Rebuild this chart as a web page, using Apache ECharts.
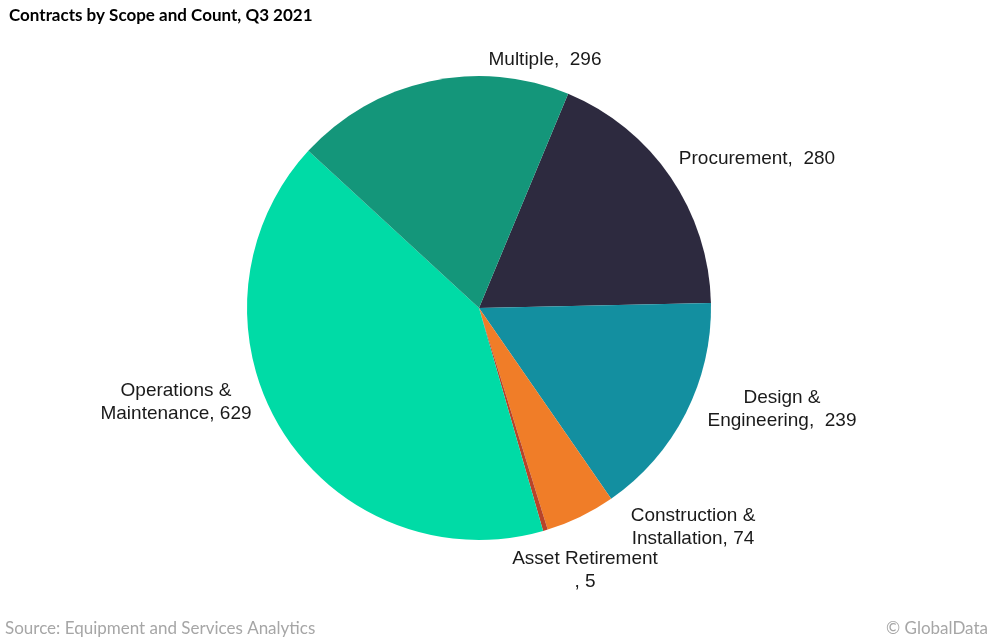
<!DOCTYPE html>
<html>
<head>
<meta charset="utf-8">
<script src="https://cdn.jsdelivr.net/npm/echarts@6/dist/echarts.min.js"></script>
<style>html,body{margin:0;padding:0;background:#fff}#c{width:996px;height:641px}</style>
</head>
<body>
<div id="c"></div>
<script>
const categories = ['Procurement', 'Design & Engineering', 'Construction & Installation', 'Asset Retirement', 'Operations & Maintenance', 'Multiple'];
const values = [280, 239, 74, 5, 629, 296];
const labelLines = ['Procurement,  280', 'Design &\nEngineering,  239', 'Construction &\nInstallation, 74', 'Asset Retirement\n, 5', 'Operations &\nMaintenance, 629', 'Multiple,  296'];
const colors = ['#2d2a3f', '#138fa0', '#f07d28', '#b8442a', '#00dba6', '#14967a'];
const labelPos = [[757, 159], [782, 409], [693, 527], [585, 570], [176, 402], [545, 60]];

const chart = echarts.init(document.getElementById('c'), null, {renderer: 'canvas'});
chart.setOption({
  animation: false,
  backgroundColor: '#fff',
  title: {
    text: 'Contracts by Scope and Count, Q3 2021',
    left: 4, top: 2,
    textStyle: {fontFamily: 'Lato', fontWeight: 'bold', fontSize: 17, color: '#000'}
  },
  graphic: [
    {type: 'text', left: 5, top: 620, style: {text: 'Source: Equipment and Services Analytics', font: '17px Lato', fill: '#a6a6a6'}},
    {type: 'text', right: 8, top: 620, style: {text: '© GlobalData', font: '17px Lato', fill: '#a6a6a6'}}
  ],
  series: [{
    type: 'pie',
    center: [479, 308],
    radius: 232,
    startAngle: 67.4,
    clockwise: true,
    avoidLabelOverlap: false,
    data: categories.map((n, i) => ({name: n, value: values[i], itemStyle: {color: colors[i]}})),
    label: {
      show: true,
      position: 'outside',
      formatter: p => labelLines[p.dataIndex],
      fontFamily: 'Liberation Sans, Arial',
      fontSize: 19,
      color: '#1a1a1a',
      lineHeight: 23,
      align: 'center'
    },
    labelLine: {show: false},
    labelLayout: p => ({x: labelPos[p.dataIndex][0], y: labelPos[p.dataIndex][1], align: 'center', verticalAlign: 'middle'}),
    emphasis: {disabled: true}
  }]
});
</script>
</body>
</html>
